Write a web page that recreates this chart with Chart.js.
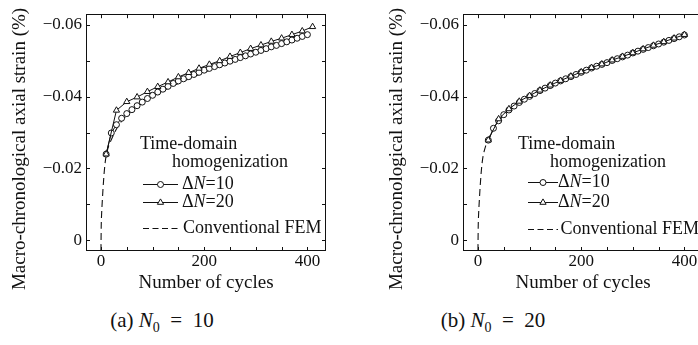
<!DOCTYPE html>
<html>
<head>
<meta charset="utf-8">
<script src="https://cdn.jsdelivr.net/npm/chart.js@4.4.0/dist/chart.umd.min.js"></script>
<style>
  html, body { margin: 0; padding: 0; background: #fff; overflow: hidden; }
  body { width: 698px; height: 345px; position: relative; font-family: "Liberation Serif", serif; color: #111; }
  .panel { position: absolute; top: 0; width: 340px; height: 300px; }
  .caption { position: absolute; top: 308px; font-size: 21px; line-height: 24px; transform: translateX(-50%); white-space: nowrap; }
  .caption sub { font-size: 14px; }
</style>
</head>
<body>
<div class="panel" style="left:0"><canvas id="chartA"></canvas></div>
<div class="panel" style="left:377px"><canvas id="chartB"></canvas></div>
<div class="caption" style="left:162px">(a) <i>N</i><sub>0</sub> &nbsp;=&nbsp; 10</div>
<div class="caption" style="left:493px">(b) <i>N</i><sub>0</sub> &nbsp;=&nbsp; 20</div>
<script>
// axis ticks
const xTicks = [0, 50, 100, 150, 200, 250, 300, 350, 400];
const xLabels = [0, 200, 400];
const yTicks = [0, -0.01, -0.02, -0.03, -0.04, -0.05, -0.06];
const yLabels = [0, -0.02, -0.04, -0.06];

// conventional FEM (same reference curve in both panels)
const femCycles = [0, 0.5, 1, 2, 3, 4, 5, 6, 8, 10, 15, 20, 30, 40, 50, 60, 80, 100, 120, 150, 200, 250, 300, 350, 400];
const femStrain = [0.003, -0.004, -0.0065, -0.0095, -0.012, -0.0145, -0.0165, -0.0185, -0.0215, -0.0235, -0.0263, -0.0280,
  -0.0310, -0.0332, -0.0348, -0.0361, -0.0383, -0.0400, -0.0416, -0.0437, -0.0468, -0.0496, -0.0523, -0.0548, -0.0572];

// (a) N0 = 10
const cyclesA10 = [10, 20, 30, 40, 50, 60, 70, 80, 90, 100, 110, 120, 130, 140, 150, 160, 170, 180, 190, 200,
  210, 220, 230, 240, 250, 260, 270, 280, 290, 300, 310, 320, 330, 340, 350, 360, 370, 380, 390, 400];
const strainA10 = [-0.0240, -0.0299, -0.0322, -0.0340, -0.0353, -0.0364, -0.0375, -0.0385, -0.0395, -0.0404,
  -0.0413, -0.0421, -0.0429, -0.0437, -0.0444, -0.0450, -0.0456, -0.0462, -0.0468, -0.0474,
  -0.0479, -0.0484, -0.0489, -0.0494, -0.0499, -0.0504, -0.0509, -0.0514, -0.0519, -0.0524,
  -0.0529, -0.0534, -0.0539, -0.0543, -0.0548, -0.0553, -0.0558, -0.0563, -0.0568, -0.0573];
const cyclesA20 = [10, 30, 50, 70, 90, 110, 130, 150, 170, 190, 210, 230, 250, 270, 290, 310, 330, 350, 370, 390, 410];
const strainA20 = [-0.0240, -0.0362, -0.0386, -0.0399, -0.0414, -0.0428, -0.0441, -0.0455, -0.0467, -0.0479,
  -0.0490, -0.0500, -0.0512, -0.0523, -0.0534, -0.0544, -0.0554, -0.0563, -0.0573, -0.0583, -0.0595];

// (b) N0 = 20
const cyclesB10 = [20, 30, 40, 50, 60, 70, 80, 90, 100, 110, 120, 130, 140, 150, 160, 170, 180, 190, 200,
  210, 220, 230, 240, 250, 260, 270, 280, 290, 300, 310, 320, 330, 340, 350, 360, 370, 380, 390, 400];
const strainB10 = [-0.0279, -0.0312, -0.0333, -0.0350, -0.0363, -0.0374, -0.0384, -0.0393, -0.0401, -0.0409,
  -0.0417, -0.0424, -0.0431, -0.0438, -0.0444, -0.0450, -0.0456, -0.0462, -0.0468, -0.0474,
  -0.0480, -0.0485, -0.0490, -0.0495, -0.0501, -0.0506, -0.0511, -0.0516, -0.0522, -0.0527,
  -0.0532, -0.0537, -0.0542, -0.0547, -0.0552, -0.0557, -0.0562, -0.0567, -0.0572];
const cyclesB20 = [20, 40, 60, 80, 100, 120, 140, 160, 180, 200, 220, 240, 260, 280, 300, 320, 340, 360, 380, 400];
const strainB20 = [-0.0279, -0.0338, -0.0366, -0.0387, -0.0403, -0.0418, -0.0432, -0.0445, -0.0457, -0.0469,
  -0.0481, -0.0491, -0.0502, -0.0512, -0.0522, -0.0533, -0.0543, -0.0553, -0.0563, -0.0573];

const legendTitle = ['Time-domain', 'homogenization'];
const yTitle = 'Macro-chronological axial strain (%)';
const xTitle = 'Number of cycles';

const INK = '#111';
const FONT = '"Liberation Serif", "Times New Roman", Times, serif';
Chart.defaults.font.family = FONT;
Chart.defaults.color = INK;

const pts = (xs, ys) => xs.map((x, i) => ({ x: x, y: ys[i] }));

// inward ticks on all four sides + frame
const frameTicks = {
  id: 'frameTicks',
  afterDatasetsDraw(chart) {
    const { ctx, chartArea: a, scales: { x, y } } = chart;
    const len = 4;
    ctx.save();
    ctx.strokeStyle = INK;
    ctx.lineWidth = 1;
    ctx.beginPath();
    x.ticks.forEach(t => {
      const px = Math.round(x.getPixelForValue(t.value)) + 0.5;
      ctx.moveTo(px, a.bottom); ctx.lineTo(px, a.bottom - len);
      ctx.moveTo(px, a.top); ctx.lineTo(px, a.top + len);
    });
    y.ticks.forEach(t => {
      const py = Math.round(y.getPixelForValue(t.value)) + 0.5;
      ctx.moveTo(a.left, py); ctx.lineTo(a.left + len, py);
      ctx.moveTo(a.right, py); ctx.lineTo(a.right - len, py);
    });
    ctx.stroke();
    ctx.strokeRect(Math.round(a.left) + 0.5, Math.round(a.top) + 0.5,
      Math.round(a.right - a.left) - 1, Math.round(a.bottom - a.top) - 1);
    ctx.restore();
  }
};

// rotated y title, placed a bit lower than the chart area centre
const yAxisTitle = {
  id: 'yAxisTitle',
  afterDraw(chart, args, o) {
    const ctx = chart.ctx;
    ctx.save();
    ctx.translate(o.x, o.y);
    ctx.rotate(-Math.PI / 2);
    ctx.font = '19px ' + FONT;
    ctx.fillStyle = INK;
    ctx.textAlign = 'center';
    ctx.textBaseline = 'middle';
    ctx.fillText(yTitle, 0, 0);
    ctx.restore();
  }
};

// legend inside the plot
const insetLegend = {
  id: 'insetLegend',
  afterDraw(chart, args, o) {
    const { ctx, chartArea: a } = chart;
    const L = a.left, T = a.top;
    const reg = '18px ' + FONT, ital = 'italic 18px ' + FONT;
    ctx.save();
    ctx.fillStyle = INK;
    ctx.strokeStyle = INK;
    ctx.lineWidth = 1;
    ctx.textBaseline = 'middle';
    ctx.font = reg;
    ctx.fillText(legendTitle[0], L + o.titleX[0], T + o.rows[0]);
    ctx.fillText(legendTitle[1], L + o.titleX[1], T + o.rows[1]);
    chart.data.datasets.forEach((ds, i) => {
      const yy = Math.round(T + o.rows[2 + i]) + 0.5;
      ctx.save();
      ctx.setLineDash(ds.borderDash ? [6, 3.5] : []);
      ctx.beginPath();
      ctx.moveTo(L + o.lineX[0], yy);
      ctx.lineTo(L + o.lineX[1], yy);
      ctx.stroke();
      ctx.restore();
      if (ds.pointRadius > 0) {
        ctx.fillStyle = '#fff';
        Chart.helpers.drawPoint(ctx, { pointStyle: ds.pointStyle, radius: ds.pointRadius, rotation: 0, borderWidth: 1 },
          L + (o.lineX[0] + o.lineX[1]) / 2, yy);
        ctx.fillStyle = INK;
      }
      let tx = L + (ds.pointRadius > 0 ? o.textX[0] : o.textX[1]);
      const parts = ds.label.split(/(N)/);
      parts.forEach(p => {
        ctx.font = p === 'N' ? ital : reg;
        ctx.fillText(p, tx, yy);
        tx += ctx.measureText(p).width;
      });
    });
    ctx.restore();
  }
};

function makeChart(id, c10, s10, c20, s20, legendPos) {
  return new Chart(document.getElementById(id), {
    type: 'scatter',
    data: {
      datasets: [
        {
          label: 'ΔN=10',
          data: pts(c10, s10),
          showLine: true,
          borderColor: INK,
          borderWidth: 1,
          pointStyle: 'circle',
          pointRadius: 3,
          pointBackgroundColor: '#fff',
          pointBorderColor: INK,
          pointBorderWidth: 1,
          order: 2
        },
        {
          label: 'ΔN=20',
          data: pts(c20, s20),
          showLine: true,
          borderColor: INK,
          borderWidth: 1,
          pointStyle: 'triangle',
          pointRadius: 3.6,
          pointBackgroundColor: '#fff',
          pointBorderColor: INK,
          pointBorderWidth: 1,
          order: 1
        },
        {
          label: 'Conventional FEM',
          data: pts(femCycles, femStrain),
          showLine: true,
          borderColor: INK,
          borderWidth: 1.1,
          borderDash: [7, 4],
          pointRadius: 0,
          cubicInterpolationMode: 'monotone',
          order: 3
        }
      ]
    },
    options: {
      responsive: true,
      maintainAspectRatio: false,
      animation: false,
      layout: { padding: { top: 12, right: 14, left: 0, bottom: 0 } },
      plugins: {
        legend: { display: false },
        tooltip: { enabled: false },
        yAxisTitle: { x: 20, y: 149 },
        insetLegend: legendPos
      },
      scales: {
        x: {
          type: 'linear',
          min: -29,
          max: 436,
          grid: { display: false, drawTicks: false },
          border: { display: false },
          afterBuildTicks: s => { s.ticks = xTicks.map(v => ({ value: v })); },
          afterFit: s => { s.height = 49; },
          ticks: {
            padding: 0,
            maxRotation: 0,
            font: { size: 17 },
            color: INK,
            callback: v => xLabels.includes(v) ? String(v) : ''
          },
          title: {
            display: true,
            text: xTitle,
            font: { size: 19 },
            color: INK,
            padding: { top: 0, bottom: 6 }
          }
        },
        y: {
          type: 'linear',
          reverse: true,
          min: -0.063,
          max: 0.003,
          grid: { display: false, drawTicks: false },
          border: { display: false },
          afterBuildTicks: s => { s.ticks = yTicks.map(v => ({ value: v })); },
          afterFit: s => { s.width = 86; },
          ticks: {
            padding: 4,
            font: { size: 17 },
            color: INK,
            callback: v => {
              const hit = yLabels.find(l => Math.abs(l - v) < 1e-9);
              if (hit === undefined) return '';
              return hit === 0 ? '0' : '\u2212' + Math.abs(hit).toFixed(2);
            }
          }
        }
      }
    },
    plugins: [frameTicks, yAxisTitle, insetLegend]
  });
}

function drawAll() {
  makeChart('chartA', cyclesA10, strainA10, cyclesA20, strainA20,
    { rows: [129.7, 148, 169.7, 188, 214], titleX: [54, 86], lineX: [57, 92], textX: [96, 97] });
  makeChart('chartB', cyclesB10, strainB10, cyclesB20, strainB20,
    { rows: [129.7, 148, 168, 188, 215], titleX: [55, 87], lineX: [65, 95], textX: [95, 97.5] });
}

Promise.all([
  document.fonts.load('18px "Liberation Serif"'),
  document.fonts.load('italic 18px "Liberation Serif"')
]).then(drawAll, drawAll);
</script>
</body>
</html>
